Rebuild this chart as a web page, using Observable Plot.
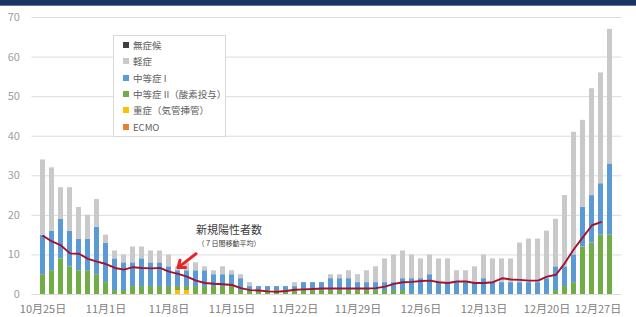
<!DOCTYPE html>
<html><head><meta charset="utf-8">
<script src="https://cdn.jsdelivr.net/npm/d3@7"></script>
<script src="https://cdn.jsdelivr.net/npm/@observablehq/plot@0.6"></script>
<style>
body{margin:0;background:#fff;}
#wrap{position:relative;width:636px;height:317px;overflow:hidden;font-family:"Noto Sans CJK JP","Noto Sans",sans-serif;}
#band{position:absolute;left:0;top:0;width:636px;height:6px;background:#1d3461;border-bottom:1px solid #5a78a0;box-sizing:border-box;}
#legend{position:absolute;left:113px;top:35px;width:113px;height:102px;border:1px solid #d9d9d9;background:#fff;box-sizing:border-box;padding-top:1px;}
.item{height:16.3px;display:flex;align-items:center;font-size:9.5px;color:#606060;padding-left:9px;white-space:nowrap;}
.sw{width:6px;height:6px;margin-right:4px;flex:none;}
</style></head>
<body>
<div id="wrap"><div id="band"></div></div>
<script>
// Dates 10/25 .. 12/27 (64 days)
const startDay = new Date(Date.UTC(2020, 9, 25));
const dates = d3.range(64).map(i => {
  const d = new Date(startDay.getTime() + i * 864e5);
  return `${d.getUTCMonth() + 1}/${d.getUTCDate()}`;
});
const tickDates = ["10/25","11/1","11/8","11/15","11/22","11/29","12/6","12/13","12/20","12/27"];
const yTicks = [0,10,20,30,40,50,60,70];

const categories = ["ECMO","重症（気管挿管）","中等症 II（酸素投与）","中等症 I","軽症","無症候"];
const palette = ["#ed7d31","#ffc000","#70ad47","#5b9bd5","#c9c9c9","#404040"];

const ecmo =         [0,0,0,0,0,0,0,0,0,0,0,0,0,0,0,0,0,0,0,0,0,0,0,0,0,0,0,0,0,0,0,0,0,0,0,0,0,0,0,0,0,0,0,0,0,0,0,0,0,0,0,0,0,0,0,0,0,0,0,0,0,0,0,0];
const severe =       [0,0,0,0,0,0,0,0,0,0,0,0,0,0,0,1,1,0,0,0,0,0,0,0,0,0,0,0,0,0,0,0,0,0,0,0,0,0,0,0,0,0,0,0,0,0,0,0,0,0,0,0,0,0,0,0,0,0,0,0,0,0,0,0];
const moderate2 =    [5,6,9,7,6,6,5,3,1,1,2,2,2,2,2,1,1,2,2,2,2,2,1,1,1,1,1,1,1,1,1,1,1,1,1,1,1,1,1,1,1,0,0,0,0,0,0,0,0,0,0,0,0,0,0,0,0,1,2,3,12,13,15,15];
const moderate1 =    [10,10,10,9,8,8,12,10,8,7,6,7,6,6,5,4,4,4,4,3,3,3,3,1,1,1,1,1,1,2,2,2,3,3,3,2,2,2,2,2,3,4,4,5,3,3,3,3,3,4,3,3,3,3,3,3,4,6,5,7,10,12,13,18];
const mild =         [19,16,8,11,8,6,7,2,2,2,4,3,3,3,3,1,2,2,1,1,2,1,1,1,0,0,0,0,1,0,0,0,1,1,2,2,3,4,6,7,7,6,5,5,6,6,3,3,4,6,6,6,6,10,11,11,12,12,18,31,22,27,28,34];
const asymptomatic = [0,0,0,0,0,0,0,0,0,0,0,0,0,0,0,0,0,0,0,0,0,0,0,0,0,0,0,0,0,0,0,0,0,0,0,0,0,0,0,0,0,0,0,0,0,0,0,0,0,0,0,0,0,0,0,0,0,0,0,0,0,0,0,0];

// 新規陽性者数（7日間移動平均）
const movingAvg = [14.8,13.4,12.4,10.4,10.3,9.0,8.3,7.7,6.7,6.3,6.9,6.7,6.6,6.7,5.8,5.2,4.5,3.5,2.9,2.7,2.6,2.4,1.6,1.1,1.0,0.8,0.7,0.9,1.2,1.3,1.4,1.5,1.5,1.5,1.5,1.5,1.5,1.6,2.0,2.7,3.1,3.2,3.4,3.5,3.1,2.9,3.3,3.3,2.9,2.9,3.1,4.1,3.8,3.7,3.5,3.5,4.5,5.0,8.0,11.5,14.5,17.5,18.3,null];

const annotations = [
  {date:"11/15", v:16.1, text:"新規陽性者数", size:11},
  {date:"11/15", v:12.7, text:"（７日間移動平均）", size:7}
];
const arrowData = [{x1:"11/11", y1:10.3, x2:"11/9", y2:6.8}];

const series = [ecmo, severe, moderate2, moderate1, mild, asymptomatic];
const rows = dates.flatMap((d, i) => series.map((s, k) => ({date: d, cat: categories[k], value: s[i]})));
const maRows = dates.map((d, i) => ({date: d, v: movingAvg[i]})).filter(r => r.v != null);
const fmt = d => d.replace("/", "月") + "日";

const chart = Plot.plot({
  width: 636, height: 317,
  marginTop: 17, marginBottom: 23, marginLeft: 31.4, marginRight: 14.7,
  style: {fontFamily: '"Noto Sans CJK JP","Noto Sans",sans-serif', background: "transparent"},
  x: {type: "band", domain: dates, padding: 0.45},
  y: {domain: [0, 70]},
  color: {domain: categories, range: palette},
  marks: [
    Plot.gridY(yTicks, {stroke: "#dcdcdc", strokeOpacity: 1}),
    Plot.axisY(yTicks, {tickSize: 0, tickPadding: 12, fontSize: 11, color: "#a0a0a0"}),
    Plot.axisX(tickDates.slice(0, -1), {tickSize: 0, tickPadding: 11, fontSize: 11, color: "#808080", tickFormat: fmt}),
    Plot.axisX(tickDates.slice(-1), {tickSize: 0, tickPadding: 11, fontSize: 11, color: "#808080", tickFormat: fmt, dx: -12}),
    Plot.barY(rows, {x: "date", y: "value", fill: "cat"}),
    Plot.lineY(maRows, {x: "date", y: "v", stroke: "#a3122e", strokeWidth: 1.9}),
    Plot.arrow(arrowData, {x1: "x1", y1: "y1", x2: "x2", y2: "y2", stroke: "#e8262a", strokeWidth: 3, headLength: 7, headAngle: 75}),
    Plot.text(annotations, {x: "date", y: "v", text: "text", fontSize: "size", fill: "#404040", dx: -3})
  ]
});
const wrap = document.getElementById("wrap");
chart.style.position = "absolute";
chart.style.left = "0px";
chart.style.top = "0px";
wrap.appendChild(chart);

// legend overlay (top to bottom order as in reference)
const legend = document.createElement("div");
legend.id = "legend";
const order = ["無症候","軽症","中等症 I","中等症 II（酸素投与）","重症（気管挿管）","ECMO"];
for (const name of order) {
  const it = document.createElement("div");
  it.className = "item";
  const sw = document.createElement("span");
  sw.className = "sw";
  sw.style.background = palette[categories.indexOf(name)];
  it.appendChild(sw);
  it.appendChild(document.createTextNode(name));
  legend.appendChild(it);
}
wrap.appendChild(legend);
</script>
</body></html>
